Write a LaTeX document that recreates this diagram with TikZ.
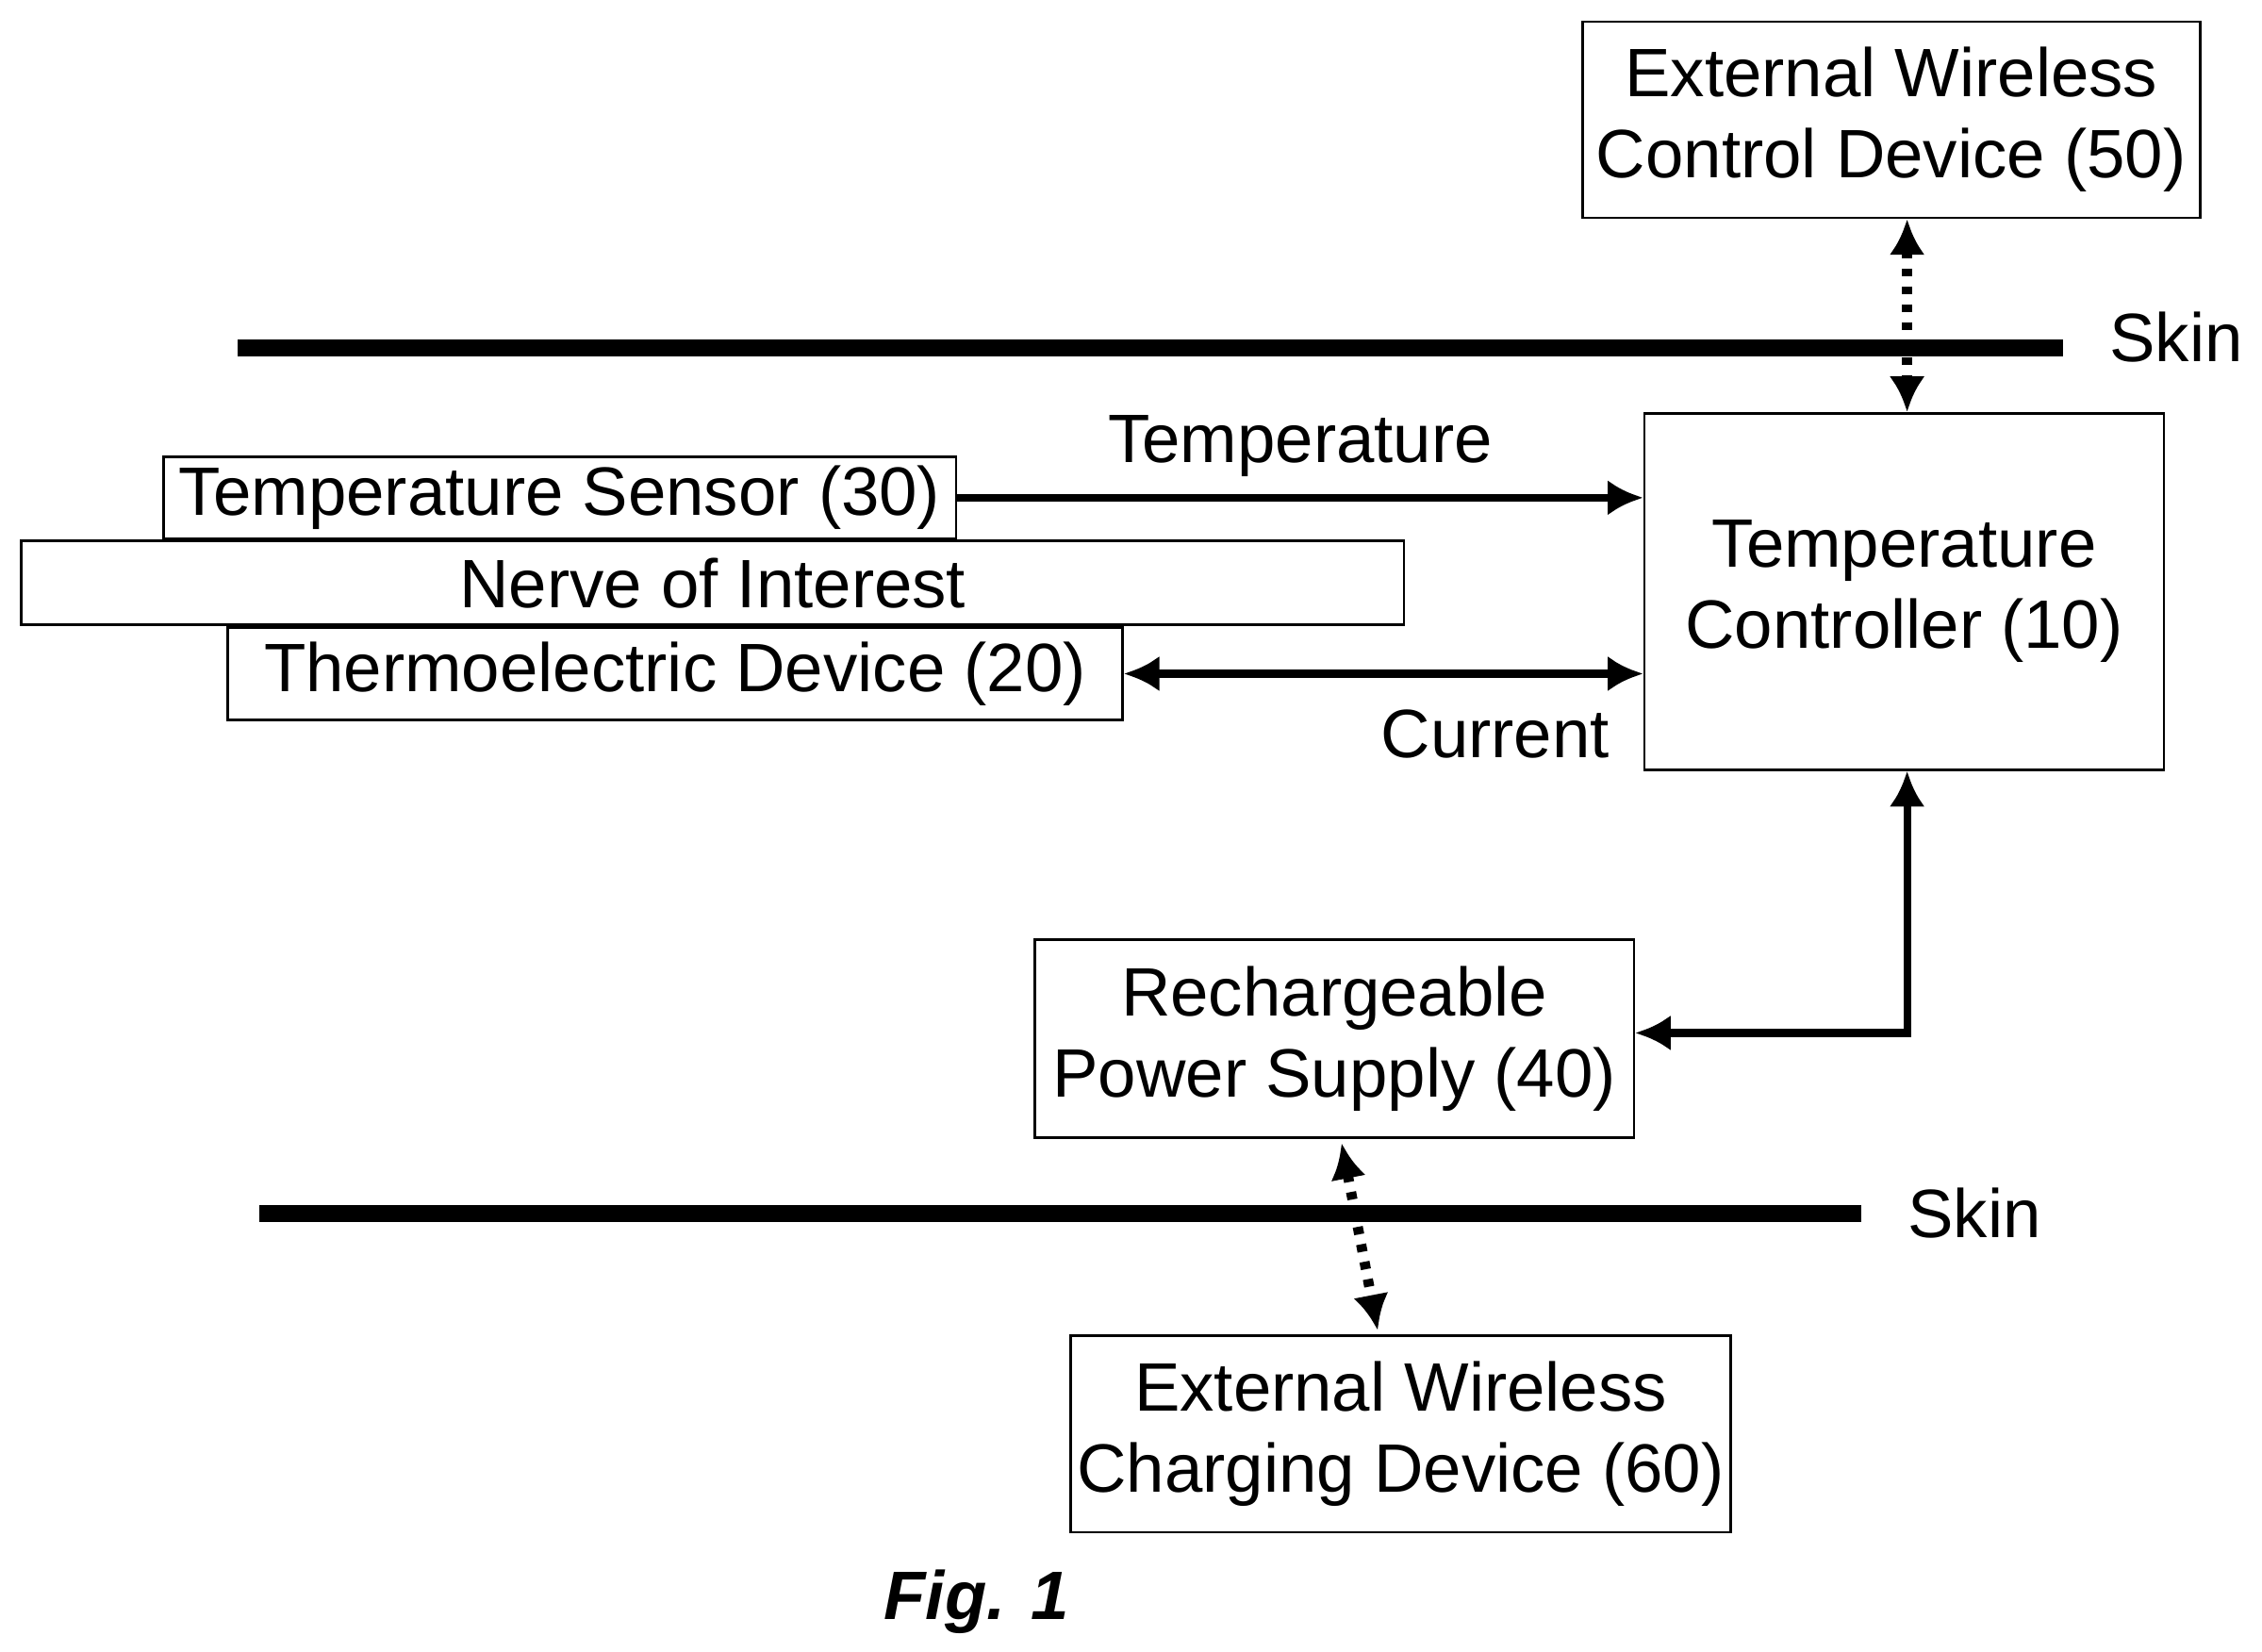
\documentclass[tikz,border=0pt]{standalone}
\usepackage{fontspec}
\setmainfont{Liberation Sans}
\usetikzlibrary{arrows.meta}
\usetikzlibrary{positioning}
\usetikzlibrary{calc}
\begin{document}
\begin{tikzpicture}[x=0.01cm,y=-0.01cm]
  \tikzset{
    box/.style={draw,line width=0.5pt,inner sep=0pt,align=center,
      font=\fontsize{13.5}{16}\selectfont},
    link/.style={line width=1.5pt,{Latex[length=7pt,width=7pt]}-{Latex[length=7pt,width=7pt]}},
    feed/.style={line width=1.5pt,-{Latex[length=7pt,width=7pt]}},
    wireless/.style={link,dotted,line width=2pt},
    skin/.style={line width=3.4pt},
    lbl/.style={font=\fontsize{13.5}{16}\selectfont},
  }
  \useasboundingbox (0,0) rectangle (1568,1145);
  %BOXES
  \node[box,minimum width=4.28cm,minimum height=1.36cm] (ctrlext) at (1311,83) {External Wireless\\Control Device (50)};
  \node[box,minimum width=3.6cm,minimum height=2.47cm] (ctrl) at (1320,410) {Temperature\\Controller (10)};
  \node[box,minimum width=5.49cm,minimum height=0.57cm] (sensor) at (388,345) {Temperature Sensor (30)};
  \node[box,minimum width=9.58cm,minimum height=0.58cm] (nerve) at (494,404) {Nerve of Interest};
  \node[box,minimum width=6.2cm,minimum height=0.64cm] (teg) at (468,467) {Thermoelectric Device (20)};
  \node[box,minimum width=4.15cm,minimum height=1.37cm] (power) at (925,720) {Rechargeable\\Power Supply (40)};
  \node[box,minimum width=4.57cm,minimum height=1.36cm] (charger) at (971,994) {External Wireless\\Charging Device (60)};
  %SKIN
  \draw[skin] (165,241) -- (1430,241);
  \node[lbl,right] (skintop) at (1450,234) {Skin};
  \draw[skin] (180,841) -- (1290,841);
  \node[lbl,right] (skinbot) at (1310,841) {Skin};
  %LINKS
  \draw[wireless] (ctrlext.south -| 1322,0) -- (ctrl.north -| 1322,0);
  \draw[feed] (sensor.east) -- (sensor.east -| ctrl.west) node[lbl,midway,above] {Temperature};
  \draw[link] (teg.east) -- (teg.east -| ctrl.west) node[lbl,midway,below,yshift=-3pt,xshift=22pt] {Current};
  \draw[link] (ctrl.south -| 1322,0) |- (power.east |- 0,716);
  \draw[wireless] ($(power.south)+(5,3)$) -- ($(charger.north)+(-16,-3)$);
  %CAPTION
  \node[font=\fontsize{13.5}{16}\selectfont\bfseries\itshape] (fig) at (677,1110) {Fig. 1};
\end{tikzpicture}
\end{document}
